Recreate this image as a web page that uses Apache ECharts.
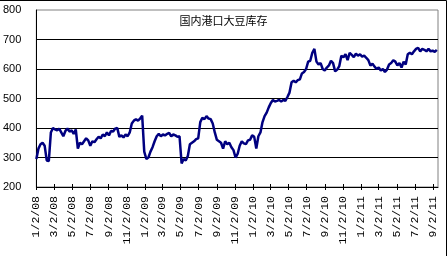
<!DOCTYPE html>
<html>
<head>
<meta charset="utf-8">
<script src="https://cdn.jsdelivr.net/npm/echarts@6/dist/echarts.min.js"></script>
<style>
  html, body { margin: 0; padding: 0; background: #fff; }
  #chart { width: 447px; height: 256px; }
</style>
</head>
<body>
<div id="chart"></div>
<script>
// 国内港口大豆库存（万吨），周度数据，从 2008-01-02 起每周一个点
const startDate = '2008-01-02'
const stocks = [
  295, 330, 345, 350, 340, 290, 288, 385, 400, 395,
  392, 398, 385, 372, 390, 398, 388, 392, 380, 395,
  330, 350, 345, 355, 365, 358, 340, 355, 352, 362,
  370, 365, 378, 372, 385, 375, 390, 388, 398, 400,
  370, 375, 368, 378, 372, 385, 415, 425, 430, 425,
  432, 442, 320, 295, 300, 320, 335, 355, 372, 380,
  372, 378, 375, 380, 383, 372, 378, 375, 370, 372,
  280, 295, 290, 305, 345, 350, 355, 362, 365, 420,
  435, 430, 440, 432, 430, 415, 385, 360, 355, 350,
  330, 355, 345, 350, 335, 325, 300, 312, 340, 355,
  348, 345, 358, 360, 375, 370, 330, 372, 385, 420,
  440, 452, 470, 485, 495, 490, 492, 495, 490, 495,
  492, 505, 520, 555, 560, 555, 562, 565, 585, 590,
  600, 625, 628, 655, 668, 625, 615, 620, 600, 595,
  605, 612, 628, 620, 592, 598, 610, 645, 640, 650,
  630, 655, 648, 640, 652, 645, 650, 642, 645, 638,
  630, 612, 618, 608, 600, 605, 595, 600, 590, 598,
  615, 620, 630, 625, 612, 620, 605, 625, 615, 650,
  655, 650, 660, 668, 672, 660, 668, 665, 660, 668,
  660, 662, 658, 665
]
const xTickLabels = [
  '1/2/08', '3/2/08', '5/2/08', '7/2/08', '9/2/08', '11/2/08',
  '1/2/09', '3/2/09', '5/2/09', '7/2/09', '9/2/09', '11/2/09',
  '1/2/10', '3/2/10', '5/2/10', '7/2/10', '9/2/10', '11/2/10',
  '1/2/11', '3/2/11', '5/2/11', '7/2/11', '9/2/11'
]
const yTicks = [200, 300, 400, 500, 600, 700, 800]

// x 用“天数”表示（从 2008-01-02 起算）
const DAY = 86400000
const t0 = Date.parse(startDate)
const dayOf = (s) => {
  const [m, d, y] = s.split('/').map(Number)
  return Math.round((Date.UTC(2000 + y, m - 1, d) - t0) / DAY)
}
const seriesData = stocks.map((v, i) => [i * 7, v])
const tickDays = xTickLabels.map(dayOf)
const labelOf = (val) => {
  const i = tickDays.indexOf(Math.round(val))
  return i >= 0 ? xTickLabels[i] : ''
}
const xMax = dayOf('9/18/11')

const chart = echarts.init(document.getElementById('chart'))

chart.setOption({
  animation: false,
  title: {
    text: '国内港口大豆库存',
    left: 'center',
    top: 10,
    textStyle: { fontSize: 11, fontWeight: 'normal', color: '#000', fontFamily: 'Noto Sans CJK SC' },
  },
  grid: {
    left: 33, right: 9, top: 10, bottom: 69,
    show: true, borderColor: '#808080', borderWidth: 1,
  },
  xAxis: [
    {
      type: 'value',
      min: 0, max: xMax,
      axisLine: { show: true, onZero: false, lineStyle: { color: '#000', width: 1 } },
      axisTick: { show: true, inside: true, length: 3, customValues: tickDays, lineStyle: { color: '#000' } },
      axisLabel: {
        customValues: tickDays,
        formatter: labelOf,
        rotate: 90,
        margin: 9,
        fontSize: 11.5,
        fontFamily: 'Liberation Mono',
        color: '#000',
        hideOverlap: false,
      },
      splitLine: { show: false },
    },
    {
      type: 'value',
      position: 'bottom',
      min: 0, max: xMax,
      axisLine: { show: false },
      axisTick: { show: true, length: 3, customValues: tickDays, lineStyle: { color: '#000' } },
      axisLabel: { show: false },
      splitLine: { show: false },
    },
  ],
  yAxis: {
    type: 'value',
    min: yTicks[0], max: yTicks[yTicks.length - 1], interval: 100,
    axisLine: { show: true, lineStyle: { color: '#000', width: 1 } },
    axisTick: { show: false },
    axisLabel: { margin: 15, fontSize: 11, fontFamily: 'Liberation Sans', color: '#000' },
    splitLine: { show: true, showMaxLine: false, lineStyle: { color: '#000', width: 1 } },
  },
  graphic: [
    { type: 'polyline', shape: { points: [[0, 0.5], [446.5, 0.5], [446.5, 256]] }, style: { stroke: '#000', fill: null, lineWidth: 1 } },
  ],
  series: [
    {
      name: '国内港口大豆库存',
      type: 'line',
      data: seriesData,
      showSymbol: false,
      lineStyle: { color: '#000080', width: 2.5 },
      itemStyle: { color: '#000080' },
    },
  ],
})
</script>
</body>
</html>
